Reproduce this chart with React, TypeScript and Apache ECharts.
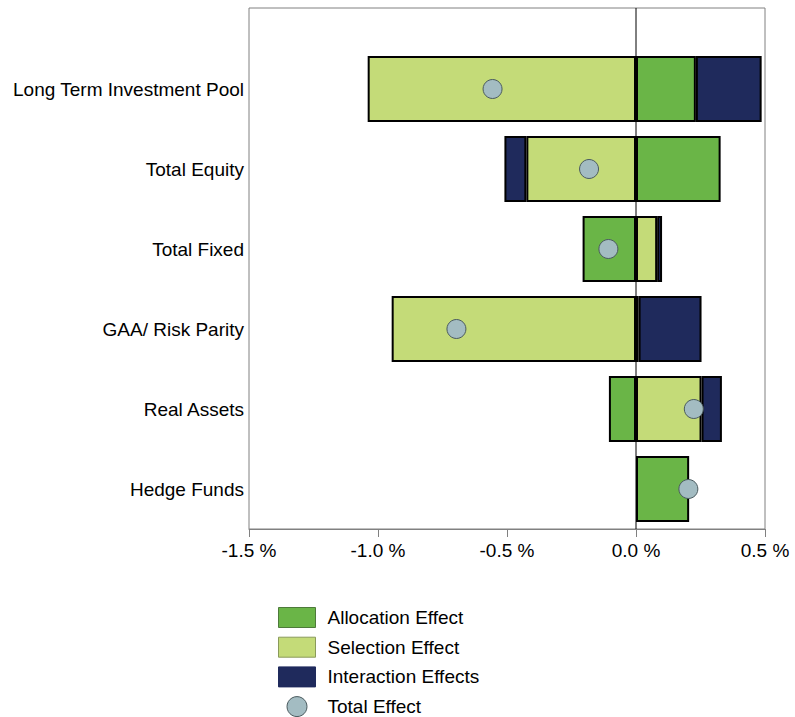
import React, { useEffect, useRef } from "react";
import * as echarts from "echarts";

const categories = [
  "Long Term Investment Pool",
  "Total Equity",
  "Total Fixed",
  "GAA/ Risk Parity",
  "Real Assets",
  "Hedge Funds",
];
const allocationEffect = [0.232, 0.328, -0.207, 0.01, -0.105, 0.206];
const selectionEffect = [-1.04, -0.425, 0.082, -0.947, 0.254, null];
const interactionEffects = [0.255, -0.085, 0.019, 0.244, 0.079, null];
const totalEffect = [-0.556, -0.182, -0.107, -0.696, 0.224, 0.203];
const xTicks = { min: -1.5, max: 0.5, interval: 0.5 };

const FONT = "'Liberation Sans', Arial, sans-serif";

export default function App() {
  const ref = useRef<HTMLDivElement>(null);
  useEffect(() => {
    if (!ref.current) return;
    const chart = echarts.init(ref.current, null, { renderer: "svg" });
    const barBase = {
      type: "bar",
      stack: "effects",
      barWidth: 66,
      xAxisIndex: 0,
      yAxisIndex: 0,
    };
    chart.setOption({
      animation: false,
      textStyle: { fontFamily: FONT },
      grid: [
        { left: 249, right: 30, top: 49, bottom: 188 },
        {
          left: 249,
          right: 30,
          top: 8,
          bottom: 188,
          show: true,
          borderColor: "#808080",
          borderWidth: 1,
          backgroundColor: "transparent",
        },
      ],
      xAxis: [
        {
          gridIndex: 0,
          type: "value",
          min: xTicks.min,
          max: xTicks.max,
          interval: xTicks.interval,
          axisLine: { show: true, lineStyle: { color: "#808080", width: 1 } },
          axisTick: { show: true, length: 8, lineStyle: { color: "#808080" } },
          splitLine: { show: false },
          axisLabel: {
            fontSize: 19,
            color: "#000",
            margin: 12,
            fontFamily: FONT,
            formatter: (v: number) => v.toFixed(1) + " %",
          },
        },
        {
          gridIndex: 1,
          type: "value",
          min: xTicks.min,
          max: xTicks.max,
          show: false,
        },
      ],
      yAxis: [
        {
          gridIndex: 0,
          type: "category",
          inverse: true,
          data: categories,
          axisLine: { show: false },
          axisTick: { show: false },
          splitLine: { show: false },
          axisLabel: { fontSize: 19, color: "#000", margin: 5, fontFamily: FONT },
        },
        { gridIndex: 1, type: "value", min: 0, max: 1, show: false },
      ],
      legend: {
        orient: "vertical",
        left: 278,
        top: 607,
        height: 300,
        padding: 0,
        itemWidth: 37,
        itemHeight: 20,
        itemGap: 8.7,
        textStyle: { fontSize: 19, color: "#000", fontFamily: FONT, padding: [0, 0, 0, 7] },
        data: [
          { name: "Allocation Effect", icon: "rect", itemStyle: { borderColor: "#4d7a3a", borderWidth: 1 } },
          { name: "Selection Effect", icon: "rect", itemStyle: { borderColor: "#8a9a5a", borderWidth: 1 } },
          { name: "Interaction Effects", icon: "rect", itemStyle: { borderColor: "#1f2a5c", borderWidth: 1 } },
          { name: "Total Effect", icon: "circle", itemStyle: { borderColor: "#4a5a5e", borderWidth: 1 } },
        ],
      },
      series: [
        {
          ...barBase,
          name: "Allocation Effect",
          data: allocationEffect,
          itemStyle: { color: "#6ab547", borderColor: "#000", borderWidth: 2 },
        },
        {
          ...barBase,
          name: "Selection Effect",
          data: selectionEffect,
          itemStyle: { color: "#c4db78", borderColor: "#000", borderWidth: 2 },
        },
        {
          ...barBase,
          name: "Interaction Effects",
          data: interactionEffects,
          itemStyle: { color: "#1f2a5c", borderColor: "#000", borderWidth: 2 },
        },
        {
          type: "line",
          name: "zero",
          xAxisIndex: 1,
          yAxisIndex: 1,
          data: [
            [0, 0],
            [0, 1],
          ],
          symbol: "none",
          silent: true,
          z: 3,
          lineStyle: { color: "#000", width: 1 },
        },
        {
          type: "scatter",
          name: "Total Effect",
          xAxisIndex: 0,
          yAxisIndex: 0,
          data: totalEffect,
          symbol: "circle",
          symbolSize: 19,
          z: 5,
          itemStyle: { color: "#a3bcc2", borderColor: "#4a5a5e", borderWidth: 1, opacity: 1 },
        },
      ],
    });
    return () => chart.dispose();
  }, []);
  return (
    <div
      ref={ref}
      style={{ position: "fixed", left: 0, top: 0, width: 795, height: 717, background: "#fff" }}
    />
  );
}
